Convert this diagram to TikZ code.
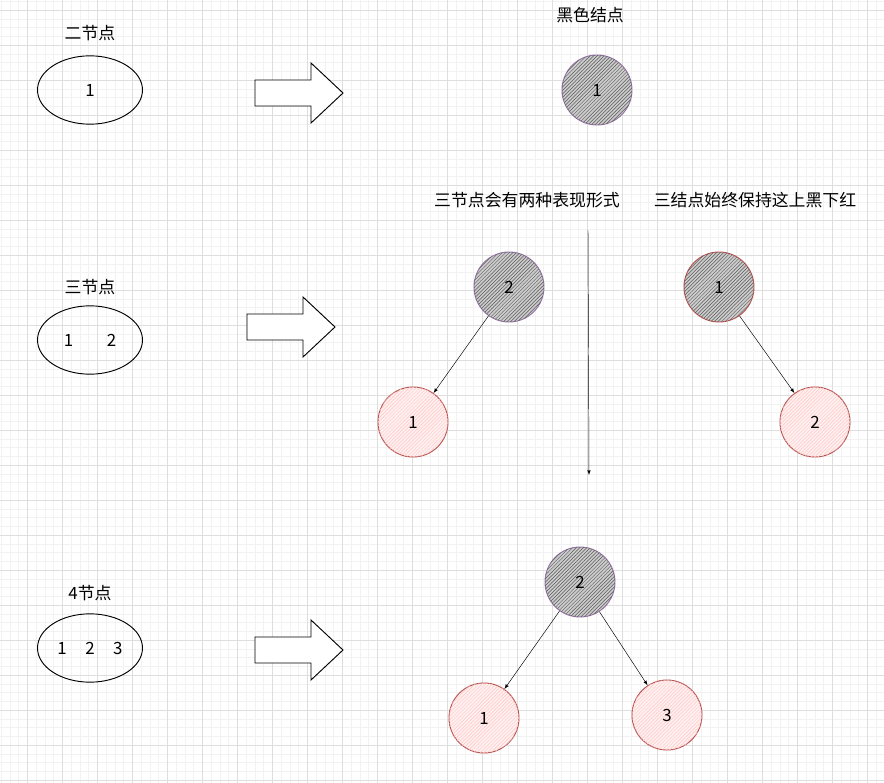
\documentclass[tikz,border=0pt]{standalone}
\usepackage{fontspec}
\setmainfont{Noto Sans CJK SC}
\usepackage{tikz}
\usetikzlibrary{patterns}
\usetikzlibrary{calc}
\definecolor{violet}{HTML}{9673A6}
\definecolor{rouge}{HTML}{B85450}
\tikzset{
    noir/.style={circle, draw=violet, thick, minimum size=2.1cm, fill=gray!40,
        postaction={pattern=north east lines, pattern color=black!65}},
    noirrouge/.style={noir, draw=rouge},
    rougeb/.style={circle, draw=rouge, thick, minimum size=2.1cm, fill=red!6,
        postaction={pattern=north east lines, pattern color=red!22}},
    ovale/.style={ellipse, draw, thick, minimum width=3.15cm, minimum height=2.05cm, inner sep=0pt},
    fleche/.style={draw, thick, fill=white},
    lien/.style={-latex, thin},
}
\usetikzlibrary{shapes.geometric}
\begin{document}
\begin{tikzpicture}[x=0.03cm, y=-0.03cm, font=\Large]
    \useasboundingbox (0,0) rectangle (884,783);
    \fill[white] (0,0) rectangle (884,783);
    % grille
    \begin{scope}
        \clip (0,0) rectangle (884,783);
        \foreach \x in {1,9.75,...,884} \draw[black!5] (\x,0) -- (\x,783);
        \foreach \y in {1.25,10,...,783} \draw[black!5] (0,\y) -- (884,\y);
        \foreach \x in {27,62,...,884} \draw[black!13] (\x,0) -- (\x,783);
        \foreach \y in {10,45,...,783} \draw[black!13] (0,\y) -- (884,\y);
    \end{scope}

    % colonne de gauche
    \node at (90,33) {二节点};
    \node[ovale] (o1) at (90,90) {1};
    \node at (90,287) {三节点};
    \node[ovale] (o2) at (90,340) {1\hspace{2em}2};
    \node at (90,593) {4节点};
    \node[ovale] (o3) at (90,648) {1\hspace{1.1em}2\hspace{1.1em}3};

    % grosses fleches
    \foreach \xa/\ya in {255/93, 247/327, 255/650} {
        \draw[fleche] (\xa,\ya-13) -- (\xa+56,\ya-13) -- (\xa+56,\ya-30) -- (\xa+88,\ya)
            -- (\xa+56,\ya+30) -- (\xa+56,\ya+13) -- (\xa,\ya+13) -- cycle;
    }

    % titres
    \node at (590,15) {黑色结点};
    \node at (527,200) {三节点会有两种表现形式};
    \node at (755,200) {三结点始终保持这上黑下红};

    % noeuds
    \node[noir] (n1) at (597,90) {1};
    \node[noir] (a2) at (509,287) {2};
    \node[rougeb] (a1) at (413,422) {1};
    \node[noirrouge] (b1) at (719,287) {1};
    \node[rougeb] (b2) at (815,422) {2};
    \node[noir] (c2) at (580,582) {2};
    \node[rougeb] (c1) at (484,718) {1};
    \node[rougeb] (c3) at (667,715) {3};

    \coordinate (h) at (588,230);
    \coordinate (k) at (589,475);
    \draw[lien] (h) -- (k);
    \draw[lien] (a2) -- (a1);
    \draw[lien] (b1) -- (b2);
    \draw[lien] (c2) -- (c1);
    \draw[lien] (c2) -- (c3);
\end{tikzpicture}
\end{document}
